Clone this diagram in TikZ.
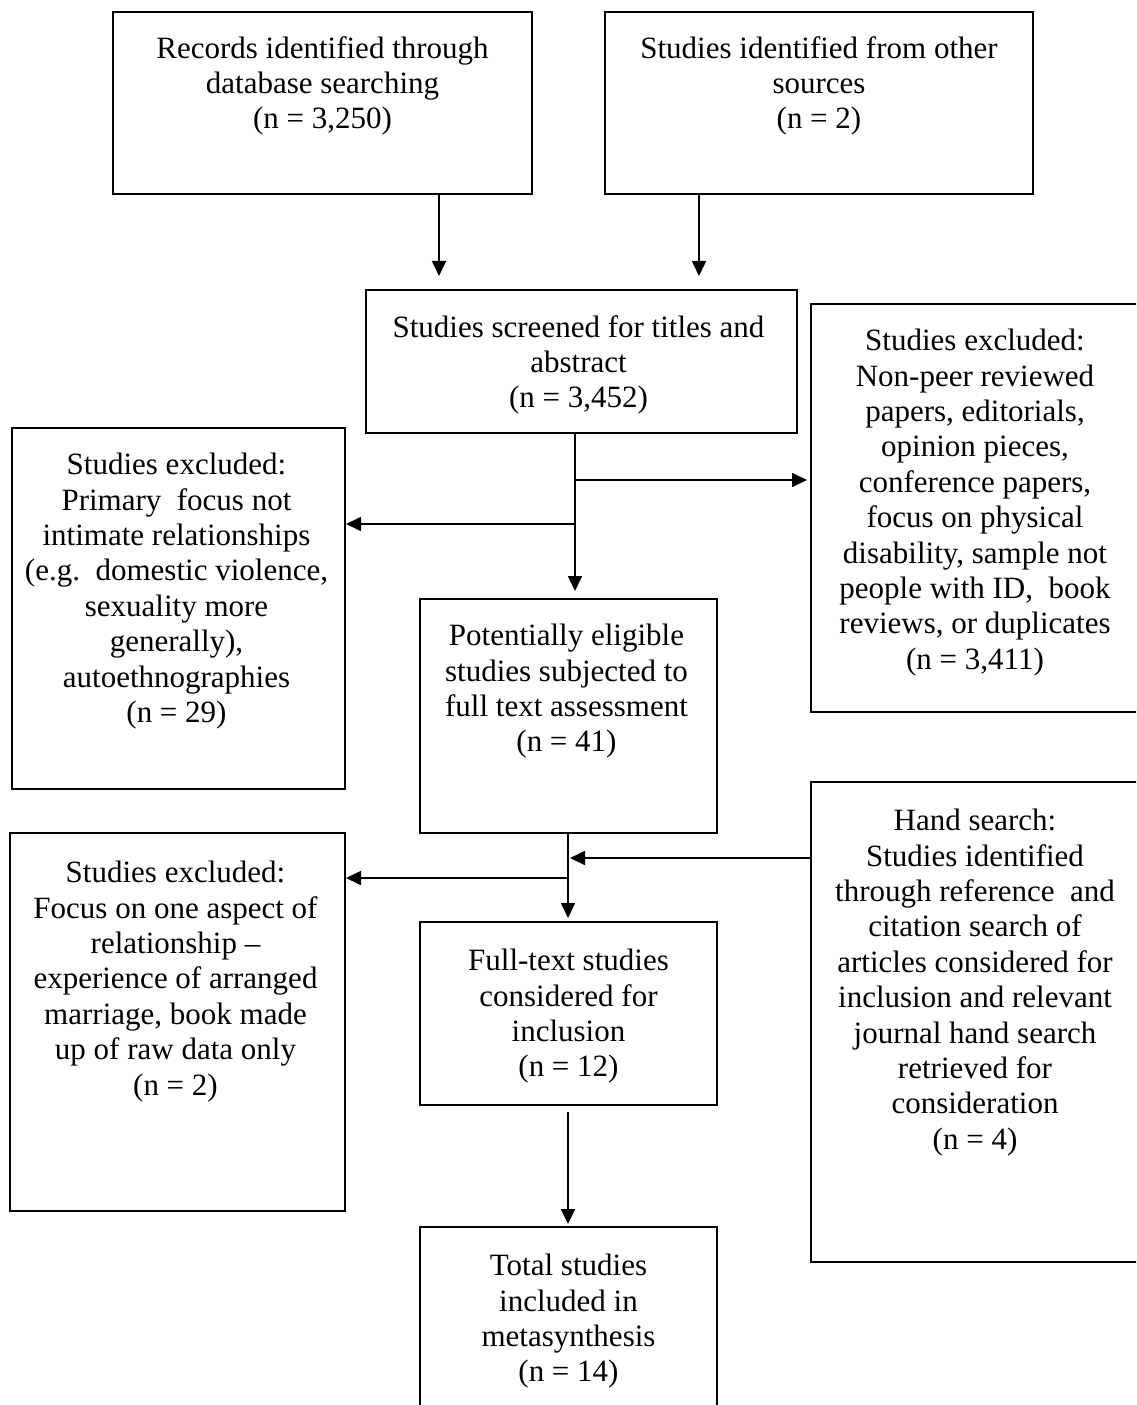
\documentclass[tikz,border=0pt]{standalone}
\usepackage{fontspec}
\setmainfont{Liberation Serif}
\usetikzlibrary{arrows.meta}
\begin{document}
\begin{tikzpicture}[x=1bp,y=-1bp,
  box/.style={draw=black, line width=2bp, inner sep=0pt},
  txt/.style={align=center, inner sep=0pt, anchor=north, font=\fontsize{31bp}{35.4bp}\selectfont},
  arr/.style={draw=black, line width=1.7bp, -{Triangle[length=15bp,width=14bp]}}]
\useasboundingbox (0,0) rectangle (1136,1405);
\fill[white] (0,0) rectangle (1136,1405);
\clip (0,0) rectangle (1136,1405);

% boxes
\node[box, minimum width=419bp, minimum height=182bp] (b1) at (322.5,103) {};
\node[box, minimum width=428bp, minimum height=182bp] (b2) at (819,103) {};
\node[box, minimum width=431bp, minimum height=143bp] (b3) at (581.5,361.5) {};
\node[box, minimum width=328bp, minimum height=408bp] (b4) at (975,508) {};
\node[box, minimum width=333bp, minimum height=361bp] (b5) at (178.5,608.5) {};
\node[box, minimum width=297bp, minimum height=234bp] (b6) at (568.5,716) {};
\node[box, minimum width=328bp, minimum height=480bp] (b7) at (975,1022) {};
\node[box, minimum width=335bp, minimum height=378bp] (b8) at (177.5,1022) {};
\node[box, minimum width=297bp, minimum height=183bp] (b9) at (568.5,1013.5) {};
\node[box, minimum width=297bp, minimum height=193bp] (b10) at (568.5,1323.5) {};

% texts
\node[txt] (t1) at ([yshift=-25bp]b1.north) {Records identified through\\database searching\\(n = 3,250)};
\node[txt] (t2) at ([yshift=-25bp]b2.north) {Studies identified from other\\sources\\(n = 2)};
\node[txt] (t3) at ([yshift=-26bp,xshift=-3bp]b3.north) {Studies screened for titles and\\abstract\\(n = 3,452)};
\node[txt] (t4) at ([yshift=-26bp]b4.north) {Studies excluded:\\Non-peer reviewed\\papers, editorials,\\opinion pieces,\\conference papers,\\focus on physical\\disability, sample not\\people with ID,\ \ book\\reviews, or duplicates\\(n = 3,411)};
\node[txt] (t5) at ([yshift=-26bp,xshift=-2bp]b5.north) {Studies excluded:\\Primary\ \ focus not\\intimate relationships\\(e.g.\ \ domestic violence,\\sexuality more\\generally),\\autoethnographies\\(n = 29)};
\node[txt] (t6) at ([yshift=-26bp,xshift=-2bp]b6.north) {Potentially eligible\\studies subjected to\\full text assessment\\(n = 41)};
\node[txt] (t7) at ([yshift=-28bp]b7.north) {Hand search:\\Studies identified\\through reference\ \ and\\citation search of\\articles considered for\\inclusion and relevant\\journal hand search\\retrieved for\\consideration\\(n = 4)};
\node[txt] (t8) at ([yshift=-29bp,xshift=-2bp]b8.north) {Studies excluded:\\Focus on one aspect of\\relationship \textendash\\experience of arranged\\marriage, book made\\up of raw data only\\(n = 2)};
\node[txt] (t9) at ([yshift=-28bp]b9.north) {Full-text studies\\considered for\\inclusion\\(n = 12)};
\node[txt] (t10) at ([yshift=-28bp]b10.north) {Total studies\\included in\\metasynthesis\\(n = 14)};

% connector helpers
\coordinate (xa) at (439,0);
\coordinate (xb) at (699,0);
\coordinate (xc) at (575,0);
\coordinate (xd) at (568,0);
\coordinate (ja) at (575,480);
\coordinate (jb) at (575,524);
\coordinate (hk) at (570,858);
\coordinate (jc) at (568,878);

% connectors
\draw[arr, shorten >=13bp] (b1.south -| xa) -- (b3.north -| xa);
\draw[arr, shorten >=13bp] (b2.south -| xb) -- (b3.north -| xb);
\draw[arr, shorten >=7bp] (b3.south -| xc) -- (b6.north -| xc);
\draw[arr, shorten >=3bp] (ja) -- (b4.west |- ja);
\draw[arr] (jb) -- (b5.east |- jb);
\draw[arr, shorten >=3bp] (b6.south -| xd) -- (b9.north -| xd);
\draw[arr] (b7.west |- hk) -- (hk);
\draw[arr] (jc) -- (b8.east |- jc);
\draw[arr, shorten <=6bp, shorten >=2bp] (b9.south -| xd) -- (b10.north -| xd);
\end{tikzpicture}
\end{document}
